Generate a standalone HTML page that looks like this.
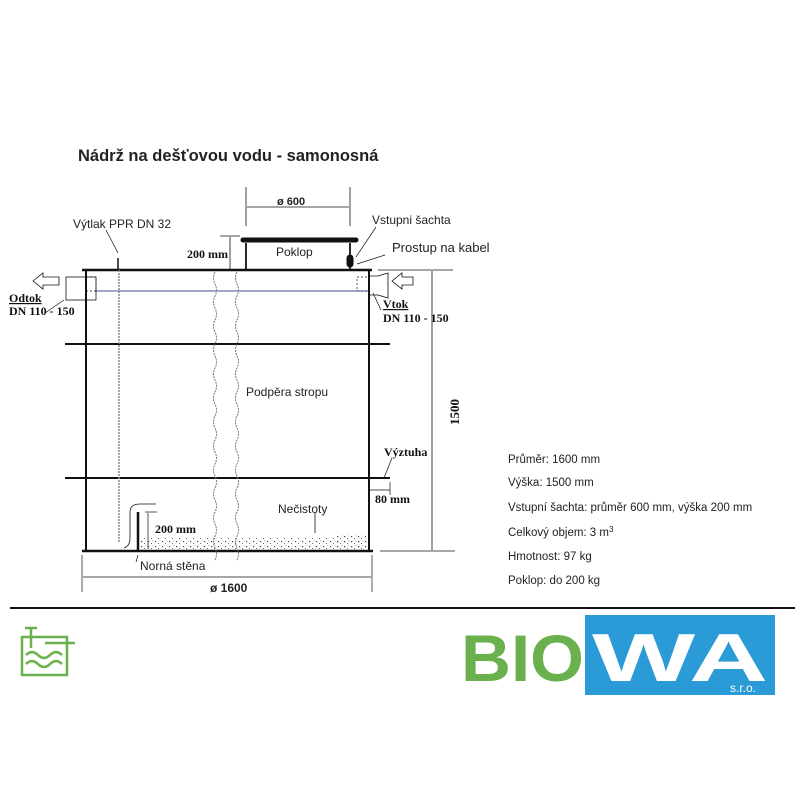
<!DOCTYPE html>
<html><head><meta charset="utf-8"><style>
html,body{margin:0;padding:0;background:#fff;}
svg{display:block;}
text{font-family:"Liberation Sans",sans-serif;}
.s text{font-family:"Liberation Serif",serif;font-weight:bold;}
</style></head><body>
<svg width="800" height="800" viewBox="0 0 800 800" xmlns="http://www.w3.org/2000/svg">
<defs>
<pattern id="dots" width="7" height="5" patternUnits="userSpaceOnUse">
<rect x="1" y="1" width="1.2" height="1.2" fill="#444"/>
<rect x="4" y="3" width="1" height="1" fill="#666"/>
<rect x="5.5" y="0.5" width="0.8" height="0.8" fill="#888"/>
</pattern>
</defs>
<text x="78" y="161" font-size="16.5" font-weight="bold" fill="#222">Nádrž na dešťovou vodu - samonosná</text>

<g stroke="#111" fill="none">
<line x1="82" y1="270" x2="372" y2="270" stroke-width="2.5"/>
<line x1="86" y1="270" x2="86" y2="551" stroke-width="2"/>
<line x1="369" y1="270" x2="369" y2="551" stroke-width="2"/>
<line x1="82" y1="551" x2="373" y2="551" stroke-width="2.5"/>
<line x1="65" y1="344" x2="390" y2="344" stroke-width="2"/>
<line x1="65" y1="478" x2="390" y2="478" stroke-width="2"/>
<line x1="95" y1="291" x2="368" y2="291" stroke="#4050a0" stroke-width="1"/>
<line x1="243" y1="240" x2="356" y2="240" stroke-width="5" stroke-linecap="round"/>
<line x1="246" y1="243" x2="246" y2="270" stroke-width="1.8"/>
<line x1="350" y1="243" x2="350" y2="270" stroke-width="1.8"/>
<rect x="347" y="255" width="6" height="12" rx="3" fill="#111"/>
<line x1="246" y1="187" x2="246" y2="226" stroke-width="0.8"/>
<line x1="350" y1="187" x2="350" y2="226" stroke-width="0.8"/>
<line x1="247" y1="207" x2="349" y2="207" stroke-width="0.8"/>
<line x1="220" y1="236" x2="240" y2="236" stroke-width="0.8"/>
<line x1="230" y1="237" x2="230" y2="269" stroke-width="0.8"/>
<line x1="378" y1="270" x2="453" y2="270" stroke-width="0.8"/>
<line x1="380" y1="551" x2="455" y2="551" stroke-width="0.8"/>
<line x1="432" y1="271" x2="432" y2="550" stroke-width="0.8"/>
<line x1="118" y1="253" x2="106" y2="230" stroke-width="0.7"/>
<line x1="356" y1="257" x2="376" y2="227" stroke-width="0.7"/>
<line x1="357" y1="264" x2="385" y2="255" stroke-width="0.7"/>
<line x1="64" y1="300" x2="45" y2="313" stroke-width="0.7"/>
<line x1="373" y1="293" x2="381" y2="310" stroke-width="0.7"/>
<line x1="384" y1="478" x2="392" y2="458" stroke-width="0.7"/>
<line x1="136" y1="562" x2="138" y2="555" stroke-width="0.7"/>
<rect x="66" y="277" width="30" height="23" stroke-width="0.8"/>
<rect x="86" y="277" width="10" height="14" stroke-dasharray="2,2" stroke-width="0.7"/>
<polygon points="33,281 43,273 43,277 59,277 59,285 43,285 43,289" stroke-width="0.8"/>
<rect x="357" y="277" width="12" height="14" stroke-dasharray="2,2" stroke-width="0.7"/>
<path d="M369 276 L378 276 L388 273 L388 298 L378 295 L369 295" stroke-width="0.8"/>
<polygon points="392,281 402,273 402,277 413,277 413,285 402,285 402,289" stroke-width="0.8"/>
<path d="M215 272 q-3 6 0 12 q3 6 0 12 q-3 6 0 12 q3 6 0 12 q-3 6 0 12 q3 6 0 12 q-3 6 0 12 q3 6 0 12 q-3 6 0 12 q3 6 0 12 q-3 6 0 12 q3 6 0 12 q-3 6 0 12 q3 6 0 12 q-3 6 0 12 q3 6 0 12 q-3 6 0 12 q3 6 0 12 q-3 6 0 12 q3 6 0 12 q-3 6 0 12 q3 6 0 12 q-3 6 0 12 q3 6 0 12" stroke="#777" stroke-width="1" stroke-dasharray="2,1"/>
<path d="M237 272 q-3 6 0 12 q3 6 0 12 q-3 6 0 12 q3 6 0 12 q-3 6 0 12 q3 6 0 12 q-3 6 0 12 q3 6 0 12 q-3 6 0 12 q3 6 0 12 q-3 6 0 12 q3 6 0 12 q-3 6 0 12 q3 6 0 12 q-3 6 0 12 q3 6 0 12 q-3 6 0 12 q3 6 0 12 q-3 6 0 12 q3 6 0 12 q-3 6 0 12 q3 6 0 12 q-3 6 0 12 q3 6 0 12" stroke="#777" stroke-width="1" stroke-dasharray="2,1"/>
<line x1="118" y1="258" x2="118" y2="270" stroke-width="1.5"/>
<line x1="119" y1="270" x2="119" y2="543" stroke="#888" stroke-width="1.5" stroke-dasharray="2,1"/>
<path d="M124 548 q6 -2 6 -10 l0 -26 q0 -8 10 -8 l16 0" stroke-width="0.8"/>
<line x1="138" y1="512" x2="138" y2="551" stroke-width="2.5"/>
<line x1="145" y1="512" x2="157" y2="512" stroke-width="0.7"/>
<line x1="148" y1="513" x2="148" y2="549" stroke-width="0.7"/>
<line x1="315" y1="513" x2="315" y2="533" stroke-width="0.8"/>
<line x1="370" y1="490" x2="390" y2="490" stroke-width="0.7"/>
<line x1="390" y1="482" x2="390" y2="495" stroke-width="0.7"/>
<line x1="82" y1="555" x2="82" y2="592" stroke-width="0.7"/>
<line x1="372" y1="555" x2="372" y2="592" stroke-width="0.7"/>
<line x1="83" y1="577" x2="371" y2="577" stroke-width="0.7"/>
</g>
<rect x="140" y="538" width="228" height="12" fill="url(#dots)"/>
<rect x="336" y="535" width="30" height="15" fill="url(#dots)"/>

<g font-size="12" fill="#222">
<text x="277" y="205" font-size="11" font-weight="bold">ø 600</text>
<text x="73" y="228">Výtlak PPR DN 32</text>
<text x="372" y="224">Vstupni šachta</text>
<text x="392" y="252" font-size="13">Prostup na kabel</text>
<text x="276" y="256">Poklop</text>
<text x="246" y="396">Podpěra stropu</text>
<text x="278" y="513">Nečistoty</text>
<text x="140" y="570">Norná stěna</text>
<text x="210" y="592" font-weight="bold">ø 1600</text>
</g>
<g class="s" font-size="12" fill="#111">
<text x="187" y="258">200 mm</text>
<text x="9" y="302" text-decoration="underline">Odtok</text>
<text x="9" y="315">DN 110 - 150</text>
<text x="383" y="308" text-decoration="underline">Vtok</text>
<text x="383" y="322">DN 110 - 150</text>
<text x="384" y="456">Výztuha</text>
<text x="375" y="503">80 mm</text>
<text x="155" y="533">200 mm</text>
<text transform="translate(459,425) rotate(-90)" font-size="13">1500</text>
</g>
<g font-size="11.5" fill="#222">
<text x="508" y="463">Průměr: 1600 mm</text>
<text x="508" y="486">Výška: 1500 mm</text>
<text x="508" y="511">Vstupní šachta: průměr 600 mm, výška 200 mm</text>
<text x="508" y="536">Celkový objem: 3 m<tspan font-size="8" dy="-4">3</tspan></text>
<text x="508" y="560">Hmotnost: 97 kg</text>
<text x="508" y="584">Poklop: do 200 kg</text>
</g>
<line x1="10" y1="608" x2="795" y2="608" stroke="#111" stroke-width="2"/>

<g stroke="#6ab04c" fill="none" stroke-width="2.5">
<rect x="22" y="637" width="45" height="38"/>
<line x1="31" y1="628" x2="31" y2="648"/>
<line x1="25" y1="628" x2="37" y2="628"/>
<line x1="45" y1="643" x2="75" y2="643"/>
<path d="M26 655 q6 -6 12 0 q6 6 12 0 q6 -6 12 0"/>
<path d="M26 664 q6 -6 12 0 q6 6 12 0 q6 -6 12 0"/>
</g>
<rect x="585" y="615" width="190" height="80" fill="#2a9bd6"/>
<text x="461" y="681" font-size="66" font-weight="bold" fill="#6ab04c" textLength="123" lengthAdjust="spacingAndGlyphs">BIO</text>
<text x="592" y="681" font-size="68" font-weight="bold" fill="#fff" textLength="176" lengthAdjust="spacingAndGlyphs">WA</text>
<text x="730" y="692" font-size="12" fill="#fff">s.r.o.</text>
</svg>
</body></html>
